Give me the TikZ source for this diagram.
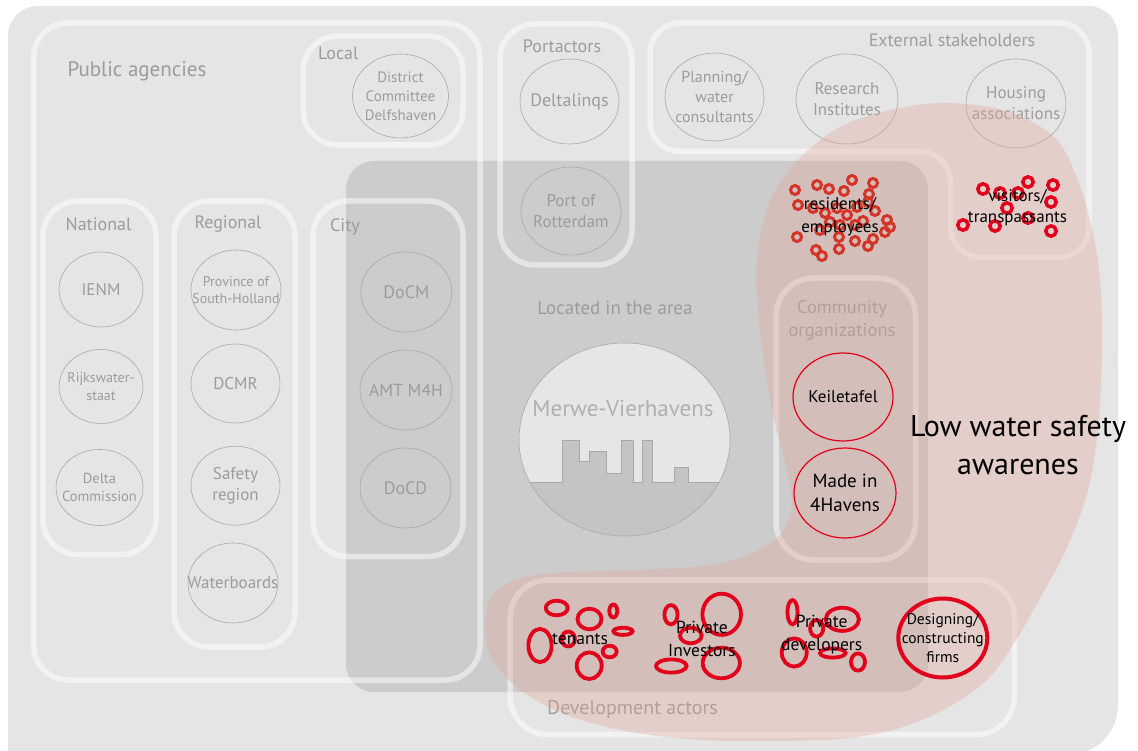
\documentclass[tikz,border=0pt]{standalone}
\usepackage{fontspec}
\setmainfont{PT Sans}
\usetikzlibrary{shapes.geometric}
\definecolor{bgc}{HTML}{E5E5E5}
\definecolor{darkc}{HTML}{CCCCCC}
\definecolor{labc}{HTML}{9C9C9C}
\definecolor{ellc}{HTML}{A8A8A8}
\definecolor{blobc}{RGB}{225,165,150}
\definecolor{ringa}{RGB}{212,52,40}
\definecolor{ringb}{RGB}{226,0,26}
\definecolor{merwelight}{HTML}{E5E6E6}
\definecolor{merwedark}{HTML}{C4C4C4}
\definecolor{merwetext}{HTML}{B0B0B0}
\newcommand\fsz[2]{\fontsize{#1}{#2}\selectfont}
% #1 name, #2 x, #3 y, #4 width, #5 height, #6 font, #7 text
\newcommand\actor[7]{%
  \node[ellbox, minimum width=#4pt, minimum height=#5pt] (#1) at (#2,#3) {};
  \node[lab, font=#6] (#1t) at (#1.center) {#7};}
\newcommand\redactor[8]{%
  \node[redbox, line width=#8, minimum width=#4pt, minimum height=#5pt] (#1) at (#2,#3) {};
  \node[blk, font=#6] (#1t) at (#1.center) {#7};}
\begin{document}
\begin{tikzpicture}[x=1pt,y=-1pt,
  band/.style={draw=white, draw opacity=0.5, line width=5.5pt},
  ellbox/.style={ellipse, draw=ellc, line width=0.6pt, inner sep=0pt},
  redbox/.style={ellipse, draw=ringb, inner sep=0pt},
  lab/.style={text=labc, align=center, inner sep=0pt},
  blk/.style={text=black, align=center, inner sep=0pt},
  reda/.style={draw=ringa, line width=3pt},
  redb/.style={draw=ringb, line width=3.5pt},
  redd/.style={draw=ringb, line width=3.8pt},
]
\useasboundingbox (0,0) rectangle (1138,751);
\fill[white] (0,0) rectangle (1138,751);
% outer background
\fill[bgc, rounded corners=30pt] (8,6) rectangle (1118,400);
\fill[bgc, rounded corners=50pt] (8,300) rectangle (1118,755);
\fill[bgc] (8,300) rectangle (100,751);
% located in the area region
\fill[darkc, rounded corners=28pt] (346,161) rectangle (928,692);
% group outlines
\draw[band, rounded corners=35pt] (33.5,23) rectangle (480,680);
\draw[band, rounded corners=35pt] (303,36) rectangle (463,145);
\draw[band, rounded corners=35pt] (43,201) rectangle (156,554.5);
\draw[band, rounded corners=35pt] (174,201) rectangle (295,647);
\draw[band, rounded corners=35pt] (313,201) rectangle (463,556.5);
\draw[band, rounded corners=35pt] (500,24) rectangle (632,265);
\draw[band, rounded corners=30pt] (650,23) -- (1089,23) -- (1089,257.5) -- (950.5,257.5) -- (950.5,151.5) -- (650,151.5) -- cycle;
\draw[band, rounded corners=38pt] (776,278) rectangle (915.5,560);
\draw[band, rounded corners=38pt] (510,580) rectangle (1014.5,734.5);
% group labels
\node[lab, font=\fsz{21}{24}] (lpub) at (137,71) {Public agencies};
\node[lab, font=\fsz{18}{21}, anchor=west] (lloc) at (318,53) {Local};
\node[lab, font=\fsz{18}{21}] (lnat) at (98.5,224) {National};
\node[lab, font=\fsz{18}{21}] (lreg) at (228,224) {Regional};
\node[lab, font=\fsz{18}{21}, anchor=west] (lcity) at (330,227) {City};
\node[lab, font=\fsz{18}{21}] (lport) at (562,46) {Portactors};
\node[lab, font=\fsz{18}{21}] (lext) at (952,40) {External stakeholders};
\node[lab, font=\fsz{19}{22}] (lloc2) at (615,308) {Located in the area};
\node[lab, font=\fsz{18.5}{23}] (lcom) at (842,320) {Community\\organizations};
\node[lab, font=\fsz{20}{23}] (ldev) at (632.5,709) {Development actors};
% grey actor ellipses
\actor{dcd}{400.5}{96}{96}{84}{\fsz{15}{19}}{District\\Committee\\Delfshaven}
\actor{ienm}{101}{289.5}{84}{75}{\fsz{17}{20}}{IENM}
\actor{rijk}{101}{386.5}{84}{74}{\fsz{14}{17.5}}{Rijkswater-\\staat}
\actor{delta}{99.5}{487.5}{87}{76}{\fsz{14.5}{18.5}}{Delta\\Commission}
\actor{prov}{236}{290}{90}{80}{\fsz{14}{17}}{Province of\\South-Holland}
\actor{dcmr}{235.5}{383.5}{89}{79}{\fsz{17}{20}}{DCMR}
\actor{safe}{235.5}{485.7}{89}{79}{\fsz{17}{21}}{Safety\\region}
\actor{wb}{233}{583}{90}{80}{\fsz{17}{20}}{Waterboards}
\actor{docm}{406.3}{292}{91}{80}{\fsz{18}{21}}{DoCM}
\actor{amt}{406}{390}{92}{80}{\fsz{17.5}{21}}{AMT M4H}
\actor{docd}{405.5}{488}{91}{80}{\fsz{18}{21}}{DoCD}
\actor{dlq}{569.5}{101.5}{99}{85}{\fsz{18}{21}}{Deltalinqs}
\actor{por}{571}{211}{100}{88}{\fsz{17}{21}}{Port of\\Rotterdam}
\actor{plan}{714.5}{97}{99}{88}{\fsz{16}{20}}{Planning/\\water\\consultants}
\actor{res}{847}{99}{102}{90}{\fsz{17}{21}}{Research\\Institutes}
\actor{hous}{1016}{103.5}{100}{89}{\fsz{17}{21}}{Housing\\associations}
% Merwe-Vierhavens
\node[ellipse, minimum width=211pt, minimum height=193pt, inner sep=0pt, fill=merwelight] (merwe) at (624.5,439.5) {};
\begin{scope}
\clip (624.5,439.5) ellipse[x radius=105.5pt, y radius=96.5pt];
\filldraw[fill=merwedark, draw=ellc, line width=0.5pt] (500,482) -- (562.3,482) -- (562.3,440) -- (579.3,440) -- (579.3,461) -- (589,461) -- (589,451) -- (606.7,451) -- (606.7,473.3) -- (621.7,473.3) -- (621.7,440) -- (633.3,440) -- (633.3,482) -- (642.7,482) -- (642.7,440) -- (652.7,440) -- (652.7,482) -- (674.3,482) -- (674.3,467.3) -- (688.3,467.3) -- (688.3,482) -- (750,482) -- (750,560) -- (500,560) -- cycle;
\end{scope}
\draw[ellc, line width=0.6pt] (624.5,439.5) ellipse[x radius=105.5pt, y radius=96.5pt];
\node[lab, text=merwetext, font=\fsz{23}{26}] (mtxt) at (623,408) {Merwe-Vierhavens};
% low awareness blob
\fill[blobc, fill opacity=0.35] plot[smooth cycle, tension=0.55] coordinates {
 (485,623) (492,596) (520,578) (570,572) (637,570) (703,566) (745,556) (780,535) (792,505)
 (787,470) (772,410) (760,330) (757,260) (770,200) (800,158) (840,127) (890,110) (940,103)
 (990,107) (1025,118) (1057,140) (1076,175) (1090,220) (1099,270) (1102,330) (1099,420)
 (1088,490) (1066,550) (1040,598) (1016,640) (987,680) (943,710) (893,730) (840,739)
 (770,741) (703,740) (637,733) (572,717) (520,690) (491,657)};
% residents rings
\foreach \x/\y in {795/190,817/185,829/189,844/191,852/180,873/183,869/194,798/205,813/208,825/213,
  837/208,847/215,857/207,863/221,875/211,887/220,890/227,885/232,873/239,868/246,855/241,839/249,
  839/237,820/230,797/237,816/250,822/256,840/225,855/225,830/222,868/202}
  \draw[reda] (\x,\y) circle[radius=4.5pt];
% visitors rings
\foreach \x/\y in {983/189,1000/193,1018/193,1028/182,1053/185,1051/202,1007/208,1028/218,963/225,995/226,1051/231}
  \draw[redb] (\x,\y) circle[radius=5.2pt];
% development actor rings
\foreach \x/\y/\a/\b in {556.7/608/11/7.3, 589.5/619/12/10.3, 613.3/611/4/6.5, 540/645.5/11.6/16.6,
  568.3/639/6.6/7.5, 623/631.3/9.6/3.6, 589.2/665.7/12.5/13.3, 609.7/651.5/7/5.8,
  671/614.7/6.6/9.6, 721.7/614.3/19.3/20.6, 690.8/635.5/10.8/7.8, 671.3/666/15.3/6.6, 721.3/663/18.6/15.3,
  792.5/612.2/5.1/12.1, 842.3/619.3/16.6/11.6, 816.7/628.3/6.6/8.3, 794.2/652.5/12.5/14.1,
  832.8/653/12.8/4.6, 858/662/7/8.6}
  \draw[redd] (\x,\y) ellipse[x radius=\a pt, y radius=\b pt];
% red actors
\redactor{keil}{843}{397}{100}{88}{\fsz{17}{21}}{Keiletafel}{1.2pt}
\redactor{made}{845}{493}{102}{90}{\fsz{19}{24}}{Made in\\4Havens}{1.2pt}
\redactor{desg}{942.8}{638}{89}{79}{\fsz{15.5}{19}}{Designing/\\constructing\\firms}{4pt}
% black labels
\node[blk, font=\fsz{17}{23}] (tres) at (840,216.5) {residents/\\employees};
\node[blk, font=\fsz{17}{21}] (tvis) at (1017.5,207.5) {visitors/\\transpassants};
\node[blk, font=\fsz{17.5}{22}] (tten) at (580,639) {tenants};
\node[blk, font=\fsz{17.5}{23}] (tinv) at (702,638.5) {Private\\Investors};
\node[blk, font=\fsz{17.5}{23}] (tdev) at (821.7,634.7) {Private\\developers};
\node[blk, font=\fsz{30}{38}] (tlow) at (1018,445) {Low water safety\\awarenes};
\end{tikzpicture}
\end{document}
